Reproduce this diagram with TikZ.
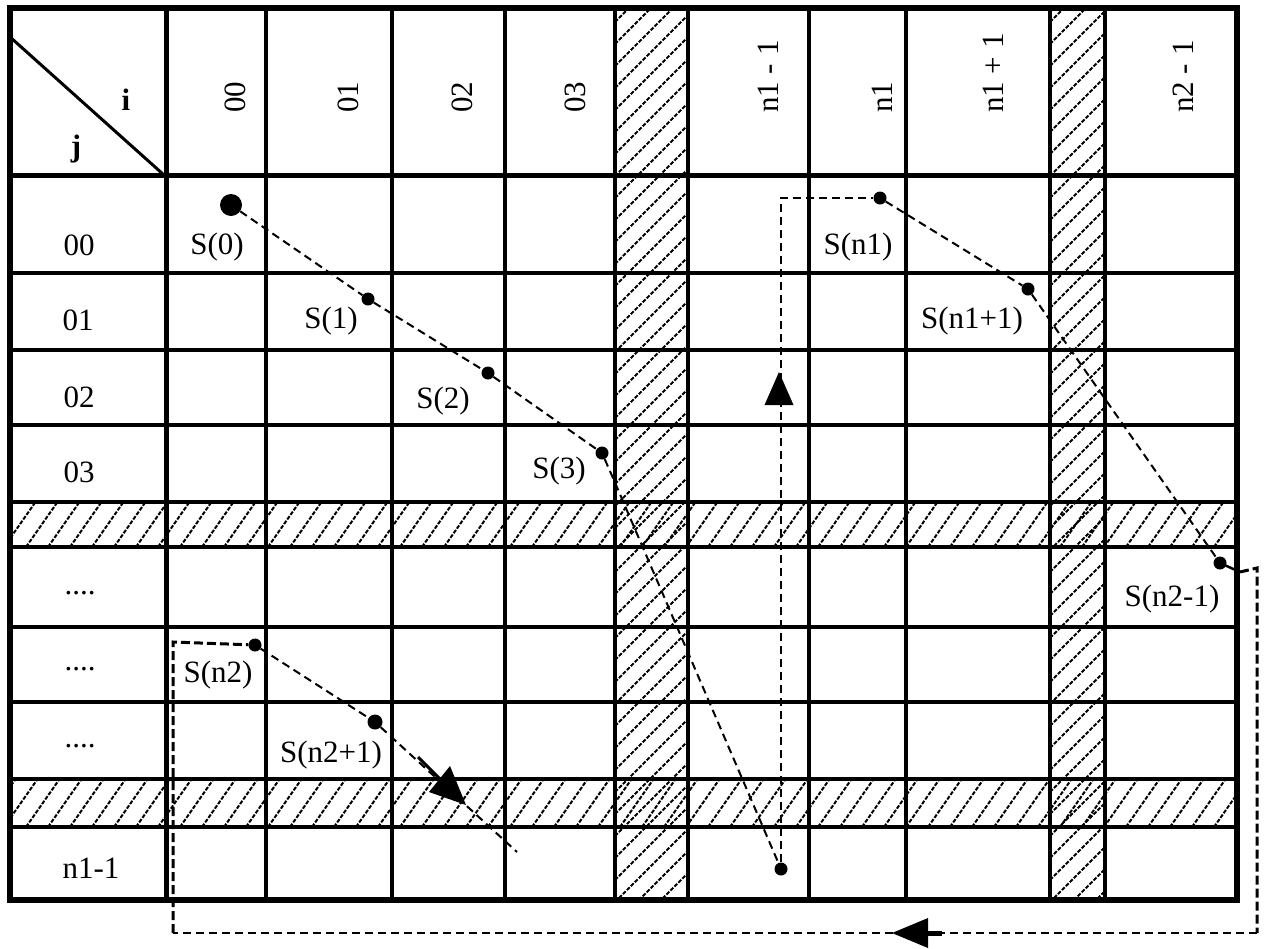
\documentclass[tikz,border=0pt]{standalone}
\usepackage{fontspec}
\setmainfont{Liberation Serif}
\begin{document}
\begin{tikzpicture}[x=1pt,y=-1pt,
  gridline/.style={line width=3.3pt},
  heavyline/.style={line width=5pt},
  hatchline/.style={line width=2pt, dash pattern=on 4pt off 1.6pt},
  pathdash/.style={line width=2pt, dash pattern=on 8pt off 5pt},
  retdash/.style={line width=3pt, dash pattern=on 9pt off 4pt},
  lbl/.style={font=\fontsize{31}{37}\selectfont, inner sep=0pt, anchor=base},
  hdr/.style={lbl, rotate=90, anchor=base west},
  dotnode/.style={circle, fill=black, inner sep=0pt, minimum size=13pt},
  bigdot/.style={dotnode, minimum size=22pt},
]
\useasboundingbox (0,0) rectangle (1268,948);
\fill[white] (0,0) rectangle (1268,948);

% ---- hatching: columns
\begin{scope}
  \clip (615,8) rectangle (688,900);
  \foreach \y in {0,22,...,1000} \draw[hatchline] (615,\y) -- ++(80,-80);
\end{scope}
\begin{scope}
  \clip (1050,8) rectangle (1105,900);
  \foreach \y in {0,22,...,1000} \draw[hatchline] (1050,\y) -- ++(60,-60);
\end{scope}
% ---- hatching: rows
\begin{scope}
  \clip (10,502) rectangle (1237,547);
  \foreach \x in {-40,-18,...,1250} \draw[hatchline] (\x,547) -- ++(31.5,-45);
\end{scope}
\begin{scope}
  \clip (10,779) rectangle (1237,827);
  \foreach \x in {-40,-18,...,1250} \draw[hatchline] (\x,827) -- ++(33.6,-48);
\end{scope}

% ---- grid
\foreach \x in {266,392,505,809,906} \draw[gridline] (\x,8) -- (\x,900);
\foreach \x in {615,1050} \draw[line width=4.5pt] (\x,8) -- (\x,900);
\foreach \x in {688,1105} \draw[line width=3.8pt] (\x,8) -- (\x,900);
\foreach \y in {273,350,425,502,547,627,702,779,827} \draw[gridline] (10,\y) -- (1237,\y);
\draw[heavyline] (166,8) -- (166,900);
\draw[heavyline] (10,175) -- (1237,175);
\draw[line width=5.5pt] (10,8) rectangle (1237,900);
\draw[line width=3pt] (10,37) -- (164,175);

% ---- header labels
\node[lbl, font=\fontsize{31}{37}\selectfont\bfseries] (hi) at (126,110) {i};
\node[lbl, font=\fontsize{31}{37}\selectfont\bfseries] (hj) at (76,156) {j};
\node[hdr] (c00) at (245,113) {00};
\node[hdr] (c01) at (358,113) {01};
\node[hdr] (c02) at (472,113) {02};
\node[hdr] (c03) at (585,113) {03};
\node[hdr] (cn1m) at (778,113) {n1 - 1};
\node[hdr] (cn1) at (892,113) {n1};
\node[hdr] (cn1p) at (1003,113) {n1 + 1};
\node[hdr] (cn2m) at (1193,113) {n2 - 1};

% ---- row labels
\node[lbl] (r00) at (79,255) {00};
\node[lbl] (r01) at (78,330) {01};
\node[lbl] (r02) at (79,407) {02};
\node[lbl] (r03) at (79,482) {03};
\node[lbl] (rd1) at (80,594) {....};
\node[lbl] (rd2) at (80,670) {....};
\node[lbl] (rd3) at (80,747) {....};
\node[lbl] (rn1m) at (91,878) {n1-1};

% ---- dots
\node[bigdot] (d0) at (231,205) {};
\node[dotnode] (d1) at (368,299) {};
\node[dotnode] (d2) at (488,373) {};
\node[dotnode] (d3) at (602,453) {};
\node[dotnode] (dbot) at (781,869) {};
\node[dotnode] (dn1) at (880,198) {};
\node[dotnode] (dn1p) at (1028,289) {};
\node[dotnode] (dn2m) at (1220,563) {};
\node[dotnode] (dn2) at (255,645) {};
\node[dotnode, minimum size=15pt] (dn2p) at (375,722) {};

% ---- S labels
\node[lbl] (s0) at (217,254) {S(0)};
\node[lbl] (s1) at (331,328) {S(1)};
\node[lbl] (s2) at (443,408) {S(2)};
\node[lbl] (s3) at (559,478) {S(3)};
\node[lbl] (sn1) at (858,254) {S(n1)};
\node[lbl] (sn1p) at (972,328) {S(n1+1)};
\node[lbl] (sn2m) at (1172,606) {S(n2-1)};
\node[lbl] (sn2) at (218,682) {S(n2)};
\node[lbl] (sn2p) at (331,762) {S(n2+1)};

% ---- paths
\coordinate (b3) at (613,478);
\draw[pathdash] (d0) -- (d1) -- (d2) -- (d3) -- (b3) -- (dbot);
\draw[pathdash] (dbot) |- (dn1);
\fill (779,372) -- (764.5,405) -- (793.5,405) -- cycle;
\draw[pathdash] (dn1) -- (dn1p) -- (dn2m);

\coordinate (rA) at (1257,568);
\coordinate (rB) at (1257,933);
\coordinate (rC) at (173,933);
\coordinate (rD) at (173,642);
\draw[line width=2.5pt] (dn2m.center) -- (1240,572);
\draw[retdash] (1240,572) -- (rA) -- (rB);
\draw[line width=2.5pt, dash pattern=on 8pt off 5pt] (rB) -- (rC);
\draw[retdash] (rC) -- (rD) -- (dn2);
\fill (892,933) -- (928,918) -- (928,948) -- cycle;
\draw[line width=5pt] (926,933) -- (942,933);

\coordinate (e2) at (517,852);
\draw[pathdash] (dn2) -- (dn2p) -- (e2);
\draw[line width=3pt] (418,757) -- (442,781);
\fill (466,805) -- (450,766) -- (429,792) -- cycle;
\end{tikzpicture}
\end{document}
